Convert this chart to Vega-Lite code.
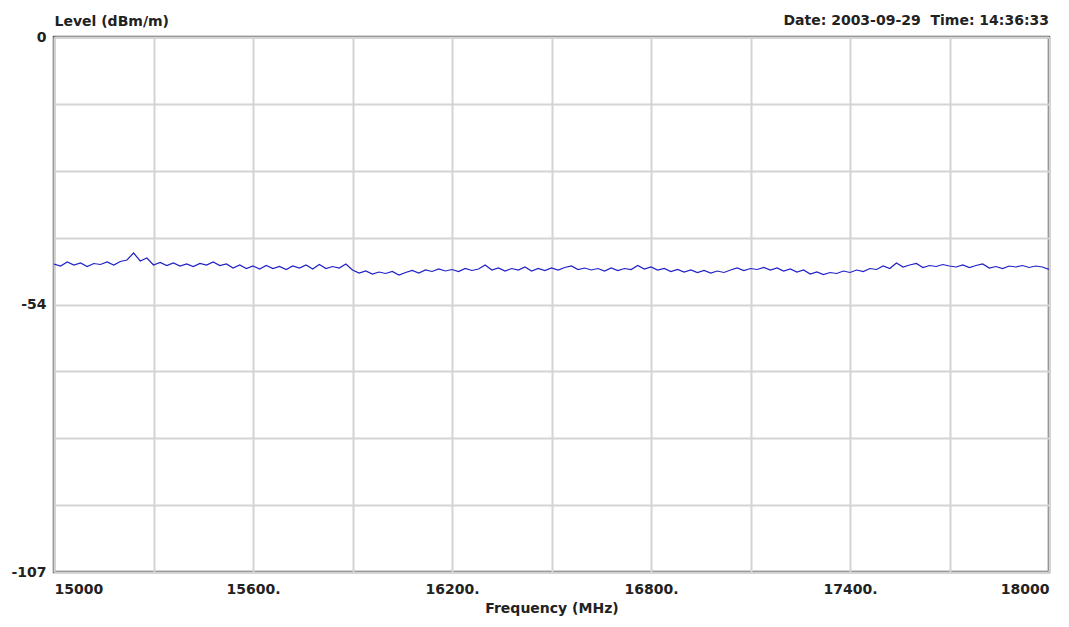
{
  "$schema": "https://vega.github.io/schema/vega-lite/v6.json",
  "autosize": {"type": "none"},
  "padding": {"left": 54, "top": 37, "right": 20, "bottom": 55},
  "width": 995,
  "height": 535,
  "background": "white",
  "title": {
    "text": "Date: 2003-09-29\u00a0\u00a0Time: 14:36:33",
    "anchor": "end",
    "font": "DejaVu Sans",
    "fontSize": 14,
    "fontWeight": "bold",
    "color": "#222222",
    "baseline": "alphabetic",
    "offset": 0,
    "dy": 25
  },
  "config": {
    "view": {"stroke": "#5a5a5a", "strokeWidth": 2.5},
    "axis": {
      "labelFont": "DejaVu Sans",
      "labelFontSize": 14,
      "labelFontWeight": "bold",
      "labelColor": "#222222",
      "titleFont": "DejaVu Sans",
      "titleFontSize": 14,
      "titleFontWeight": "bold",
      "titleColor": "#222222",
      "gridColor": "#d4d4d4",
      "gridWidth": 2,
      "gridOpacity": 1,
      "ticks": false,
      "domain": false
    }
  },
  "data": {
    "values": [
      {"f":15000,"v":-45.4},{"f":15020,"v":-45.8},{"f":15040,"v":-45.0},{"f":15060,"v":-45.6},{"f":15080,"v":-45.2},
      {"f":15100,"v":-45.9},{"f":15120,"v":-45.3},{"f":15140,"v":-45.5},{"f":15160,"v":-45.0},{"f":15180,"v":-45.6},
      {"f":15200,"v":-44.9},{"f":15220,"v":-44.6},{"f":15240,"v":-43.2},{"f":15260,"v":-44.8},{"f":15280,"v":-44.2},
      {"f":15300,"v":-45.6},{"f":15320,"v":-45.1},{"f":15340,"v":-45.7},{"f":15360,"v":-45.2},{"f":15380,"v":-45.8},
      {"f":15400,"v":-45.4},{"f":15420,"v":-45.9},{"f":15440,"v":-45.3},{"f":15460,"v":-45.6},{"f":15480,"v":-45.0},
      {"f":15500,"v":-45.7},{"f":15520,"v":-45.4},{"f":15540,"v":-46.2},{"f":15560,"v":-45.6},{"f":15580,"v":-46.3},
      {"f":15600,"v":-45.8},{"f":15620,"v":-46.4},{"f":15640,"v":-45.7},{"f":15660,"v":-46.3},{"f":15680,"v":-45.9},
      {"f":15700,"v":-46.5},{"f":15720,"v":-45.8},{"f":15740,"v":-46.2},{"f":15760,"v":-45.6},{"f":15780,"v":-46.4},
      {"f":15800,"v":-45.5},{"f":15820,"v":-46.3},{"f":15840,"v":-45.9},{"f":15860,"v":-46.2},{"f":15880,"v":-45.4},
      {"f":15900,"v":-46.6},{"f":15920,"v":-47.2},{"f":15940,"v":-46.8},{"f":15960,"v":-47.4},{"f":15980,"v":-47.0},
      {"f":16000,"v":-47.3},{"f":16020,"v":-46.9},{"f":16040,"v":-47.6},{"f":16060,"v":-47.1},{"f":16080,"v":-46.7},
      {"f":16100,"v":-47.2},{"f":16120,"v":-46.6},{"f":16140,"v":-46.9},{"f":16160,"v":-46.4},{"f":16180,"v":-46.8},
      {"f":16200,"v":-46.5},{"f":16220,"v":-46.9},{"f":16240,"v":-46.3},{"f":16260,"v":-46.7},{"f":16280,"v":-46.4},
      {"f":16300,"v":-45.6},{"f":16320,"v":-46.6},{"f":16340,"v":-46.2},{"f":16360,"v":-46.8},{"f":16380,"v":-46.3},
      {"f":16400,"v":-46.6},{"f":16420,"v":-46.0},{"f":16440,"v":-46.8},{"f":16460,"v":-46.3},{"f":16480,"v":-46.7},
      {"f":16500,"v":-46.2},{"f":16520,"v":-46.6},{"f":16540,"v":-46.1},{"f":16560,"v":-45.8},{"f":16580,"v":-46.5},
      {"f":16600,"v":-46.2},{"f":16620,"v":-46.6},{"f":16640,"v":-46.3},{"f":16660,"v":-46.8},{"f":16680,"v":-46.2},
      {"f":16700,"v":-46.7},{"f":16720,"v":-46.3},{"f":16740,"v":-46.5},{"f":16760,"v":-45.7},{"f":16780,"v":-46.4},
      {"f":16800,"v":-46.0},{"f":16820,"v":-46.6},{"f":16840,"v":-46.3},{"f":16860,"v":-46.9},{"f":16880,"v":-46.5},
      {"f":16900,"v":-47.0},{"f":16920,"v":-46.6},{"f":16940,"v":-47.1},{"f":16960,"v":-46.7},{"f":16980,"v":-47.2},
      {"f":17000,"v":-46.8},{"f":17020,"v":-47.1},{"f":17040,"v":-46.6},{"f":17060,"v":-46.2},{"f":17080,"v":-46.7},
      {"f":17100,"v":-46.3},{"f":17120,"v":-46.5},{"f":17140,"v":-46.1},{"f":17160,"v":-46.6},{"f":17180,"v":-46.2},
      {"f":17200,"v":-46.8},{"f":17220,"v":-46.4},{"f":17240,"v":-47.0},{"f":17260,"v":-46.6},{"f":17280,"v":-47.4},
      {"f":17300,"v":-47.0},{"f":17320,"v":-47.5},{"f":17340,"v":-47.1},{"f":17360,"v":-47.3},{"f":17380,"v":-46.8},
      {"f":17400,"v":-47.1},{"f":17420,"v":-46.6},{"f":17440,"v":-46.9},{"f":17460,"v":-46.3},{"f":17480,"v":-46.5},
      {"f":17500,"v":-45.8},{"f":17520,"v":-46.3},{"f":17540,"v":-45.2},{"f":17560,"v":-46.0},{"f":17580,"v":-45.6},
      {"f":17600,"v":-45.3},{"f":17620,"v":-46.1},{"f":17640,"v":-45.7},{"f":17660,"v":-45.9},{"f":17680,"v":-45.5},
      {"f":17700,"v":-45.8},{"f":17720,"v":-46.0},{"f":17740,"v":-45.6},{"f":17760,"v":-46.1},{"f":17780,"v":-45.7},
      {"f":17800,"v":-45.4},{"f":17820,"v":-46.2},{"f":17840,"v":-45.9},{"f":17860,"v":-46.3},{"f":17880,"v":-45.8},
      {"f":17900,"v":-46.0},{"f":17920,"v":-45.7},{"f":17940,"v":-46.1},{"f":17960,"v":-45.8},{"f":17980,"v":-46.0},
      {"f":18000,"v":-46.5}
    ]
  },
  "mark": {"type": "line", "color": "#2020c8", "strokeWidth": 1.2, "clip": true},
  "encoding": {
    "x": {
      "field": "f",
      "type": "quantitative",
      "scale": {"domain": [15000, 18000], "nice": false, "zero": false},
      "axis": {
        "title": "Frequency (MHz)",
        "values": [15000, 15300, 15600, 15900, 16200, 16500, 16800, 17100, 17400, 17700, 18000],
        "labelExpr": "datum.value == 15000 ? '15000' : datum.value == 18000 ? '18000' : (datum.value - 15000) % 600 == 0 ? datum.value + '.' : ''",
        "labelFlush": true,
        "labelPadding": 10,
        "titlePadding": 5
      }
    },
    "y": {
      "field": "v",
      "type": "quantitative",
      "scale": {"domain": [-107, 0], "nice": false, "zero": false},
      "axis": {
        "title": "Level (dBm/m)",
        "titleAngle": 0,
        "titleAlign": "left",
        "titleBaseline": "alphabetic",
        "titleX": 0,
        "titleY": -12,
        "values": [0, -13.375, -26.75, -40.125, -53.5, -66.875, -80.25, -93.625, -107],
        "labelExpr": "datum.value == 0 ? '0' : datum.value == -53.5 ? '-54' : datum.value == -107 ? '-107' : ''",
        "labelPadding": 8,
        "labelBaseline": "middle",
        "labelFlush": false
      }
    }
  }
}
